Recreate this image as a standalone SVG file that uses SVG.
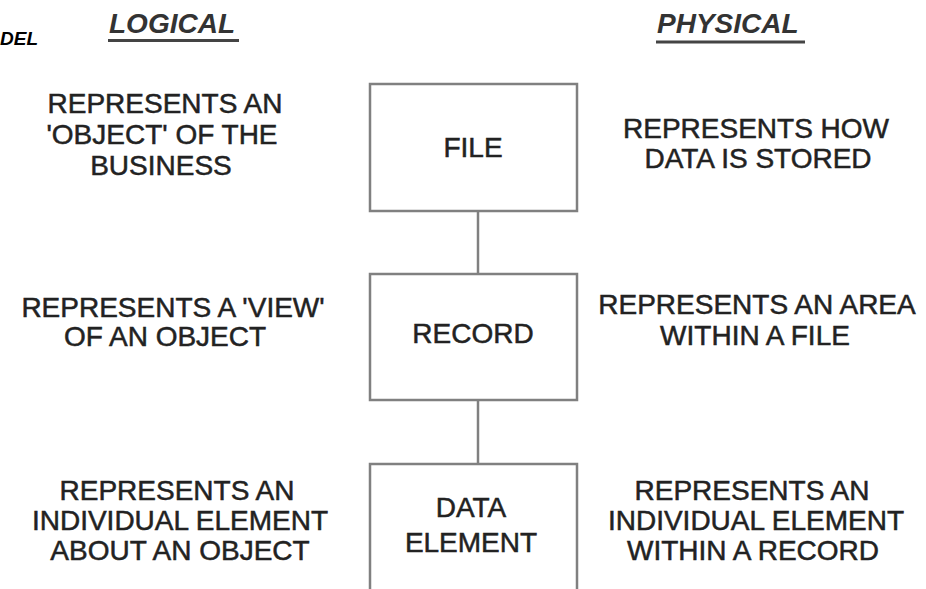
<svg xmlns="http://www.w3.org/2000/svg" width="926" height="589" viewBox="0 0 926 589">
<style>
.t{font-family:"Liberation Sans",Arial,sans-serif;font-size:28px;fill:#222;text-anchor:middle;stroke:#222;stroke-width:0.5}
.h{font-family:"Liberation Sans",Arial,sans-serif;font-size:28px;font-weight:bold;font-style:italic;fill:#333}
.box{fill:#fff;stroke:#808080;stroke-width:2.5}
.con{stroke:#808080;stroke-width:2.5;fill:none}
</style>
<rect width="926" height="589" fill="#fff"/>
<g id="headers">
<text class="h" x="0" y="45" style="font-size:19px;fill:#000">DEL</text>
<text class="h" x="109" y="33">LOGICAL</text>
<line x1="108" y1="40.5" x2="239" y2="40.5" stroke="#444" stroke-width="3"/>
<text class="h" x="657" y="33">PHYSICAL</text>
<line x1="656" y1="42" x2="805" y2="42" stroke="#444" stroke-width="3"/>
</g>
<g id="connectors">
<line class="con" x1="478" y1="211" x2="478" y2="274"/>
<line class="con" x1="478" y1="400" x2="478" y2="464"/>
</g>
<g id="file">
<rect class="box" x="370" y="84" width="207" height="127"/>
<text class="t" x="473" y="157">FILE</text>
</g>
<g id="record">
<rect class="box" x="370" y="274" width="207" height="126"/>
<text class="t" x="473" y="343">RECORD</text>
</g>
<g id="data-element">
<path class="box" d="M370,592 V464 H577 V592"/>
<text class="t" x="471" y="517">DATA</text>
<text class="t" x="471" y="552">ELEMENT</text>
</g>
<g id="logical-file">
<text class="t" x="165" y="113">REPRESENTS AN</text>
<text class="t" x="162" y="144">'OBJECT' OF THE</text>
<text class="t" x="161" y="175">BUSINESS</text>
</g>
<g id="logical-record">
<text class="t" x="173" y="317">REPRESENTS A 'VIEW'</text>
<text class="t" x="165" y="346">OF AN OBJECT</text>
</g>
<g id="logical-element">
<text class="t" x="177" y="500">REPRESENTS AN</text>
<text class="t" x="180" y="530">INDIVIDUAL ELEMENT</text>
<text class="t" x="180" y="560">ABOUT AN OBJECT</text>
</g>
<g id="physical-file">
<text class="t" x="756" y="138">REPRESENTS HOW</text>
<text class="t" x="758" y="168">DATA IS STORED</text>
</g>
<g id="physical-record">
<text class="t" x="757" y="314">REPRESENTS AN AREA</text>
<text class="t" x="755" y="345">WITHIN A FILE</text>
</g>
<g id="physical-element">
<text class="t" x="752" y="500">REPRESENTS AN</text>
<text class="t" x="756" y="530">INDIVIDUAL ELEMENT</text>
<text class="t" x="753" y="560">WITHIN A RECORD</text>
</g>
</svg>
